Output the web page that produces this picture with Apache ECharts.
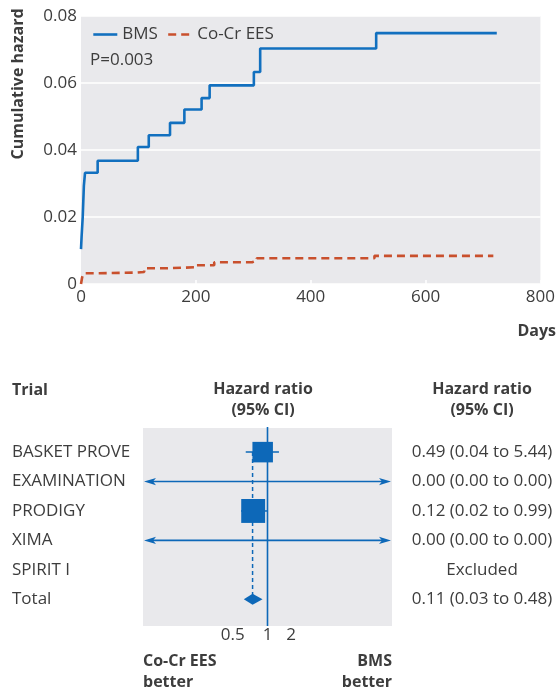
<!DOCTYPE html>
<html>
<head>
<meta charset="utf-8">
<script src="https://cdn.jsdelivr.net/npm/echarts@6/dist/echarts.min.js"></script>
<style>
  html, body { margin: 0; padding: 0; background: #ffffff; }
  #chart { width: 558px; height: 693px; }
</style>
</head>
<body>
<div id="chart"></div>
<script>
// ---- Cumulative hazard over follow-up: [day, cumulative hazard] ----
const bmsHazard = [
  [0, 0.0104], [1, 0.0140], [3, 0.0200], [5, 0.0293], [7, 0.0332],
  [29, 0.0368], [99, 0.0409], [118, 0.0444], [155, 0.0481], [180, 0.0521],
  [210, 0.0555], [224, 0.0593], [301, 0.0633], [312, 0.0703], [514, 0.0749],
  [724, 0.0749]
];
const eesHazard = [
  [0, 0.0000], [2, 0.0020], [5, 0.0032], [26, 0.0034], [96, 0.0036],
  [110, 0.0047], [150, 0.0050], [200, 0.0056], [232, 0.0065], [298, 0.0070],
  [306, 0.0077], [511, 0.0084], [718, 0.0084]
];
const seriesNames = ['BMS', 'Co-Cr EES'];
const pValueText = 'P=0.003';
const dayTicks = [0, 200, 400, 600, 800];
const hazardTicks = [0, 0.02, 0.04, 0.06, 0.08];

// ---- Meta-analysis by trial (hazard ratio, 95% CI, weight %) ----
const trials = ['BASKET PROVE', 'EXAMINATION', 'PRODIGY', 'XIMA', 'SPIRIT I', 'Total'];
const hazardRatio = [0.49, 0, 0.12, 0, null, 0.11];
const ciLow = [0.04, 0, 0.02, 0, null, 0.03];
const ciHigh = [5.44, 0, 0.99, 0, null, 0.48];
const weightPct = [42.4, 0, 57.6, 0, 0, 100];
const ratioTicks = [0.5, 1, 2];

// ---- styling ----
const FONT = "'Open Sans', 'Noto Sans', sans-serif";
const TEXT = '#3d3d3d';
const PANEL = '#e9e9ec';
const BLUE = '#1270bf';
const RED = '#c9502d';
const FOREST_BLUE = '#0d68b8';
const FS = 17;   // regular text
const FB = 16;   // bold headings

const rowMin = -0.82, rowMax = 5.91;
const pooledIndex = trials.length - 1;

function fmt(v) { return v.toFixed(2); }
const ratioText = trials.map((t, i) =>
  hazardRatio[i] === null ? 'Excluded'
    : fmt(hazardRatio[i]) + ' (' + fmt(ciLow[i]) + ' to ' + fmt(ciHigh[i]) + ')');

function arrowHead(xTip, y, dir) {
  return {
    type: 'polygon',
    shape: { points: [[xTip, y], [xTip + dir * 12, y - 3.6], [xTip + dir * 9, y], [xTip + dir * 12, y + 3.6]] },
    style: { fill: FOREST_BLUE }
  };
}

function renderForestRow(params, api) {
  const i = params.dataIndex;
  if (hazardRatio[i] === null) return null;
  const cs = params.coordSys;
  const y = api.coord([1, i])[1];
  const children = [];
  if (!(ciHigh[i] > 0)) {
    // not estimable: interval spans the whole axis
    const x0 = cs.x, x1 = cs.x + cs.width;
    children.push({ type: 'line', shape: { x1: x0 + 8, y1: y, x2: x1 - 8, y2: y },
      style: { stroke: FOREST_BLUE, lineWidth: 1.6 } });
    children.push(arrowHead(x0 + 1, y, 1));
    children.push(arrowHead(x1 - 1, y, -1));
  } else if (i === pooledIndex) {
    const pl = api.coord([ciLow[i], i]);
    const pm = api.coord([hazardRatio[i], i]);
    const ph = api.coord([ciHigh[i], i]);
    const h = 5.5;
    children.push({ type: 'polygon',
      shape: { points: [[pl[0], y], [pm[0], y - h], [ph[0], y], [pm[0], y + h]] },
      style: { fill: FOREST_BLUE } });
  } else {
    const pl = api.coord([ciLow[i], i]);
    const pm = api.coord([hazardRatio[i], i]);
    const ph = api.coord([ciHigh[i], i]);
    const side = 3.15 * Math.sqrt(weightPct[i]);
    children.push({ type: 'line', shape: { x1: pl[0], y1: y, x2: ph[0], y2: y },
      style: { stroke: FOREST_BLUE, lineWidth: 1.5 } });
    children.push({ type: 'rect',
      shape: { x: pm[0] - side / 2, y: y - side / 2, width: side, height: side },
      style: { fill: FOREST_BLUE } });
  }
  return { type: 'group', children: children };
}

const chart = echarts.init(document.getElementById('chart'), null, { renderer: 'canvas' });

const option = {
  animation: false,
  textStyle: { fontFamily: FONT, color: TEXT },
  grid: [
    { left: 81, right: 17, top: 16, bottom: 409, show: true, backgroundColor: PANEL, borderWidth: 0 },
    { left: 143, right: 166, top: 428, bottom: 67, show: true, backgroundColor: PANEL, borderWidth: 0 }
  ],
  legend: {
    data: seriesNames,
    left: 87, top: 21,
    itemWidth: 24, itemHeight: 14, itemGap: 9,
    itemStyle: { opacity: 0 },
    lineStyle: { width: 2.6 },
    textStyle: { fontFamily: FONT, fontSize: FS, color: TEXT }
  },
  xAxis: [
    {
      gridIndex: 0, type: 'value', min: dayTicks[0], max: dayTicks[dayTicks.length - 1],
      interval: dayTicks[1] - dayTicks[0],
      axisLine: { show: false },
      axisTick: { show: true, inside: true, length: 4, lineStyle: { color: '#ffffff', width: 1.5 } },
      splitLine: { show: false },
      axisLabel: { fontFamily: FONT, fontSize: FS, color: TEXT, margin: 5 }
    },
    {
      gridIndex: 1, type: 'log', logBase: 10, min: 1e-8, max: 1e8,
      axisLine: { show: false },
      axisTick: { show: true, inside: true, length: 4, customValues: ratioTicks,
        lineStyle: { color: '#ffffff', width: 1.5 } },
      splitLine: { show: false },
      axisLabel: {
        customValues: ratioTicks, margin: 1, fontFamily: FONT, fontSize: FS, color: TEXT,
        formatter: function (v) {
          if (v < 1) return '{lo|' + v + '}';
          if (v > 1) return '{hi|' + v + '}';
          return '{mid|' + v + '}';
        },
        rich: {
          lo: { fontFamily: FONT, fontSize: FS, color: TEXT, padding: [0, 60, 0, 0] },
          mid: { fontFamily: FONT, fontSize: FS, color: TEXT },
          hi: { fontFamily: FONT, fontSize: FS, color: TEXT, padding: [0, 0, 0, 38] }
        }
      }
    }
  ],
  yAxis: [
    {
      gridIndex: 0, type: 'value', min: hazardTicks[0], max: hazardTicks[hazardTicks.length - 1],
      interval: hazardTicks[1] - hazardTicks[0],
      axisLine: { show: false }, axisTick: { show: false },
      splitLine: { show: true, lineStyle: { color: '#ffffff', width: 1.5 } },
      axisLabel: { fontFamily: FONT, fontSize: FS, color: TEXT, margin: 4,
        formatter: function (v) { return v === 0 ? '0' : v.toFixed(2); } }
    },
    {
      gridIndex: 1, type: 'value', inverse: true, min: rowMin, max: rowMax,
      axisLine: { show: false }, axisTick: { show: false }, splitLine: { show: false },
      axisLabel: {
        customValues: trials.map(function (t, i) { return i; }),
        align: 'left', margin: 131, fontFamily: FONT, fontSize: FS, color: TEXT,
        formatter: function (v) { return trials[v]; }
      }
    },
    {
      gridIndex: 1, type: 'value', inverse: true, min: rowMin, max: rowMax, position: 'right',
      axisLine: { show: false }, axisTick: { show: false }, splitLine: { show: false },
      axisLabel: {
        customValues: trials.map(function (t, i) { return i; }),
        align: 'center', margin: 90, fontFamily: FONT, fontSize: FS, color: TEXT,
        formatter: function (v) { return ratioText[v]; }
      }
    }
  ],
  series: [
    {
      name: seriesNames[0], type: 'line', xAxisIndex: 0, yAxisIndex: 0,
      step: 'end', symbol: 'none', showSymbol: false,
      lineStyle: { color: BLUE, width: 2.6 }, itemStyle: { color: BLUE },
      data: bmsHazard, z: 3
    },
    {
      name: seriesNames[1], type: 'line', xAxisIndex: 0, yAxisIndex: 0,
      step: 'end', symbol: 'none', showSymbol: false,
      lineStyle: { color: RED, width: 2.6, type: [8, 5] }, itemStyle: { color: RED },
      data: eesHazard, z: 3
    },
    {
      // line of no effect
      type: 'line', xAxisIndex: 1, yAxisIndex: 1, symbol: 'none', clip: false,
      lineStyle: { color: FOREST_BLUE, width: 1.6 },
      data: [[1, rowMin - 0.03], [1, rowMax]], z: 2, silent: true
    },
    {
      // pooled estimate reference
      type: 'line', xAxisIndex: 1, yAxisIndex: 1, symbol: 'none',
      lineStyle: { color: FOREST_BLUE, width: 1.5, type: [4, 3] },
      data: [[hazardRatio[pooledIndex], 0], [hazardRatio[pooledIndex], pooledIndex]], z: 2, silent: true
    },
    {
      type: 'custom', xAxisIndex: 1, yAxisIndex: 1,
      renderItem: renderForestRow,
      data: trials.map(function (t, i) { return [hazardRatio[i] > 0 ? hazardRatio[i] : 1, i]; }),
      z: 4, silent: true
    }
  ],
  graphic: [
    { type: 'text', left: 90, top: 52,
      style: { text: pValueText, fontFamily: FONT, fontSize: FS, fill: TEXT } },
    { type: 'text', x: 18, y: 84, rotation: Math.PI / 2,
      style: { text: 'Cumulative hazard', fontFamily: FONT, fontSize: FB, fontWeight: 'bold', fill: TEXT,
        align: 'center', verticalAlign: 'middle' } },
    { type: 'text', x: 556, y: 331,
      style: { text: 'Days', fontFamily: FONT, fontSize: FB, fontWeight: 'bold', fill: TEXT,
        align: 'right', verticalAlign: 'middle' } },
    { type: 'text', x: 12, y: 390,
      style: { text: 'Trial', fontFamily: FONT, fontSize: FB, fontWeight: 'bold', fill: TEXT,
        align: 'left', verticalAlign: 'middle' } },
    { type: 'text', x: 263, y: 400,
      style: { text: 'Hazard ratio\n(95% CI)', fontFamily: FONT, fontSize: FB, fontWeight: 'bold', fill: TEXT,
        lineHeight: 21, align: 'center', verticalAlign: 'middle' } },
    { type: 'text', x: 482, y: 400,
      style: { text: 'Hazard ratio\n(95% CI)', fontFamily: FONT, fontSize: FB, fontWeight: 'bold', fill: TEXT,
        lineHeight: 21, align: 'center', verticalAlign: 'middle' } },
    { type: 'text', x: 143, y: 672,
      style: { text: 'Co-Cr EES\nbetter', fontFamily: FONT, fontSize: FB, fontWeight: 'bold', fill: TEXT,
        lineHeight: 21, align: 'left', verticalAlign: 'middle' } },
    { type: 'text', x: 392, y: 672,
      style: { text: 'BMS\nbetter', fontFamily: FONT, fontSize: FB, fontWeight: 'bold', fill: TEXT,
        lineHeight: 21, align: 'right', verticalAlign: 'middle' } }
  ]
};

chart.setOption(option);
</script>
</body>
</html>
